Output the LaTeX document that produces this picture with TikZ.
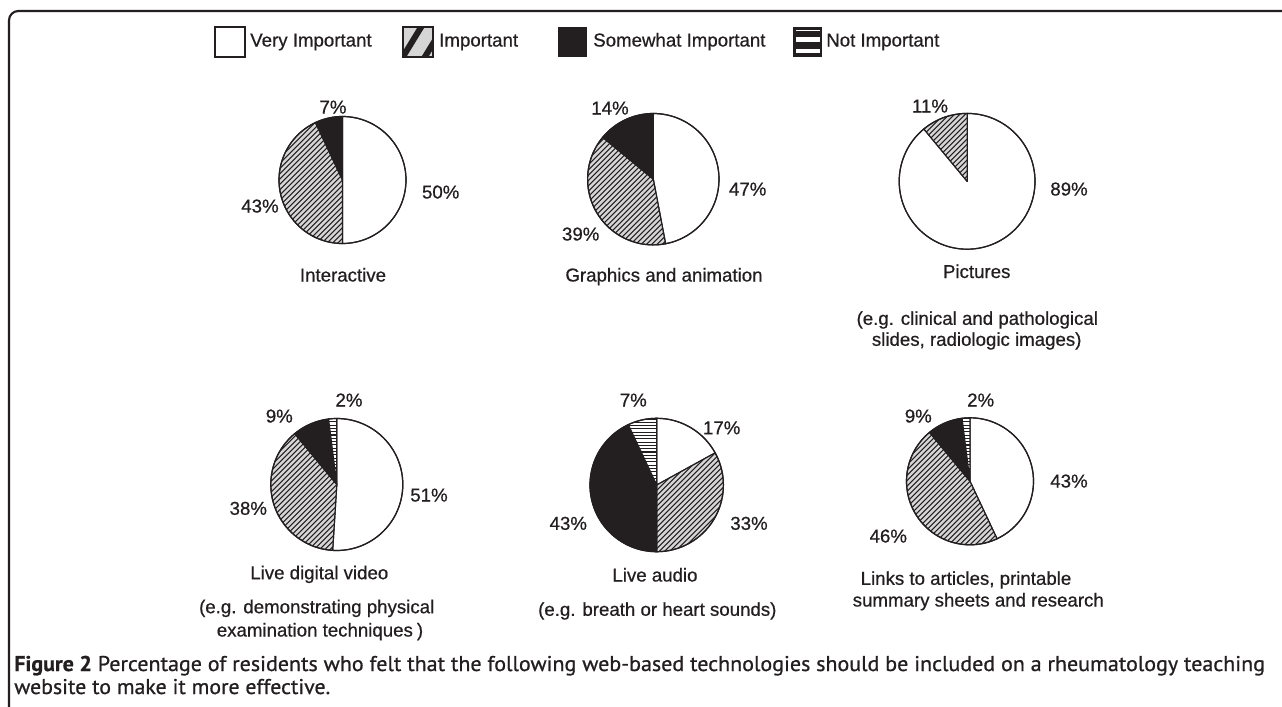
\documentclass[tikz,border=0pt]{standalone}
\usepackage{fontspec}
\setmainfont{Liberation Sans}[FakeBold=0.6]
\newfontfamily\capfont{PT Sans}[FakeBold=0.8]
\usetikzlibrary{calc}
\definecolor{ink}{HTML}{231F20}
\definecolor{hatchbg}{HTML}{D6D6D6}
\newcommand\labfont{\fontsize{14}{16.8}\selectfont}
\newcommand\captfont{\capfont\fontsize{16}{19}\selectfont}
\tikzset{
  slice/.style={draw=ink, line width=0.9pt, line join=round},
  hatchline/.style={draw=ink, line width=0.8pt},
  hzline/.style={draw=ink, line width=0.8pt},
  lab/.style={font=\labfont, text=ink, anchor=base, inner sep=0pt},
  leglab/.style={font=\labfont, text=ink, anchor=base west, inner sep=0pt},
  legbox/.style={draw=ink, line width=1.2pt},
  caption/.style={anchor=base west, inner sep=0pt, text=ink, font=\captfont}
}
\newcommand\drawpie[7]{%
  \coordinate (#1) at (#2,#3);
  \pgfmathsetmacro\pa{270+3.6*#5}
  \pgfmathsetmacro\pb{\pa+3.6*#6}
  \pgfmathsetmacro\pc{\pb+3.6*#7}
  \filldraw[slice, fill=white] (#1) -- ++(270:#4) arc[start angle=270, end angle=\pa, radius=#4] -- cycle;
  \begin{scope}
    \clip (#1) -- ++(\pa:#4) arc[start angle=\pa, end angle=\pb, radius=#4] -- cycle;
    \fill[hatchbg] ({#2-#4},{#3-#4}) rectangle ({#2+#4},{#3+#4});
    \foreach \k in {-28,...,28} \draw[hatchline] ({#2+\k*5.3-#4},{#3+#4}) -- ++({2*#4},{-2*#4});
  \end{scope}
  \draw[slice] (#1) -- ++(\pa:#4) arc[start angle=\pa, end angle=\pb, radius=#4] -- cycle;
  \filldraw[slice, fill=ink] (#1) -- ++(\pb:#4) arc[start angle=\pb, end angle=\pc, radius=#4] -- cycle;
  \begin{scope}
    \clip (#1) -- ++(\pc:#4) arc[start angle=\pc, end angle=630, radius=#4] -- cycle;
    \fill[white] ({#2-#4},{#3-#4}) rectangle ({#2+#4},{#3+#4});
    \foreach \k in {-22,...,22} \draw[hzline] ({#2-#4},{#3+\k*3.3}) -- ({#2+#4},{#3+\k*3.3});
  \end{scope}
  \draw[slice] (#1) -- ++(\pc:#4) arc[start angle=\pc, end angle=630, radius=#4] -- cycle;
  \draw[slice] (#1) circle[radius=#4];
}
\begin{document}
\begin{tikzpicture}[x=0.75pt, y=-0.75pt]
\useasboundingbox (0,0) rectangle (1282,707);
\fill[white] (0,0) rectangle (1282,707);
\clip (0,0) rectangle (1282,707);
% frame
\draw[ink, line width=1.6pt, rounded corners=7pt] (9,760) -- (9,11) -- (1340,11);

% legend
\draw[legbox, fill=white] (215,27) rectangle (245,57);
\node[leglab] (lg1) at (250,46.5) {Very Important};
\begin{scope}
  \clip (403,27) rectangle (433,57);
  \fill[hatchbg] (403,27) rectangle (433,57);
  \foreach \s in {-22,0,22} \draw[ink, line width=4.5pt] ({403+\s-2},60) -- ({403+\s+20},24);
\end{scope}
\draw[legbox] (403,27) rectangle (433,57);
\node[leglab] (lg2) at (439,46.5) {Important};
\fill[ink] (558,27) rectangle (587,57);
\node[leglab] (lg3) at (593,46.5) {Somewhat Important};
\fill[ink] (793,27) rectangle (822,57);
\fill[white] (795.5,29.7) rectangle (819.5,31);
\fill[white] (795.5,37.3) rectangle (819.5,42);
\fill[white] (795.5,48.6) rectangle (819.5,53);
\node[leglab] (lg4) at (826,46.5) {Not Important};

% pies
\drawpie{pie1}{342.5}{180}{63.5}{50}{43}{7}
\drawpie{pie2}{653.3}{179.2}{65.7}{47}{39}{14}
\drawpie{pie3}{967.1}{181.3}{67.9}{89}{11}{0}
\drawpie{pie4}{336.8}{484.5}{66}{51}{38}{9}
\drawpie{pie5}{656.7}{485}{66.7}{17}{33}{43}
\drawpie{pie6}{970}{481.3}{63.5}{43}{46}{9}

% pie 1 labels
\node[lab] (p1s) at (333,113.5) {7\%};
\node[lab] (p1v) at (440.7,198.5) {50\%};
\node[lab] (p1i) at (260,212.5) {43\%};
\node[lab] (p1t) at (343,281.5) {Interactive};
% pie 2 labels
\node[lab] (p2s) at (610,114.5) {14\%};
\node[lab] (p2v) at (747.7,195.5) {47\%};
\node[lab] (p2i) at (580.7,240.5) {39\%};
\node[lab] (p2t) at (664,281.5) {Graphics and animation};
% pie 3 labels
\node[lab] (p3i) at (930,112.5) {11\%};
\node[lab] (p3v) at (1069,195.5) {89\%};
\node[lab] (p3t) at (976.7,278) {Pictures};
\node[lab] (p3a) at (977.3,324.8) {(e.g. clinical and pathological};
\node[lab] (p3b) at (976.7,345.8) {slides, radiologic images)};
% pie 4 labels
\node[lab] (p4n) at (349,406.5) {2\%};
\node[lab] (p4s) at (279.3,422.5) {9\%};
\node[lab] (p4v) at (429,501.5) {51\%};
\node[lab] (p4i) at (248.3,514.8) {38\%};
\node[lab] (p4t) at (319.3,579.2) {Live digital video};
\node[lab] (p4a) at (316.7,613.2) {(e.g. demonstrating physical};
\node[lab] (p4b) at (320,636.5) {examination techniques\hspace{3pt})};
% pie 5 labels
\node[lab] (p5n) at (633.3,406.5) {7\%};
\node[lab] (p5v) at (721.7,434.2) {17\%};
\node[lab] (p5i) at (749,529.8) {33\%};
\node[lab] (p5s) at (568.3,529.8) {43\%};
\node[lab] (p5t) at (655,581.5) {Live audio};
\node[lab] (p5a) at (657.3,615.8) {(e.g. breath or heart sounds)};
% pie 6 labels
\node[lab] (p6n) at (980.7,406.5) {2\%};
\node[lab] (p6s) at (918.3,422.5) {9\%};
\node[lab] (p6v) at (1069,487.5) {43\%};
\node[lab] (p6i) at (888.3,542.5) {46\%};
\node[lab] (p6t) at (966,584.8) {Links to articles, printable};
\node[lab] (p6b) at (978.3,606.5) {summary sheets and research};

% caption
\node[caption] (cap1) at (14,671) {\resizebox{938pt}{\height}{\textbf{Figure 2} Percentage of residents who felt that the following web-based technologies should be included on a rheumatology teaching}};
\node[caption] (cap2) at (14,694) {\resizebox{237pt}{\height}{website to make it more effective.}};
\end{tikzpicture}
\end{document}
